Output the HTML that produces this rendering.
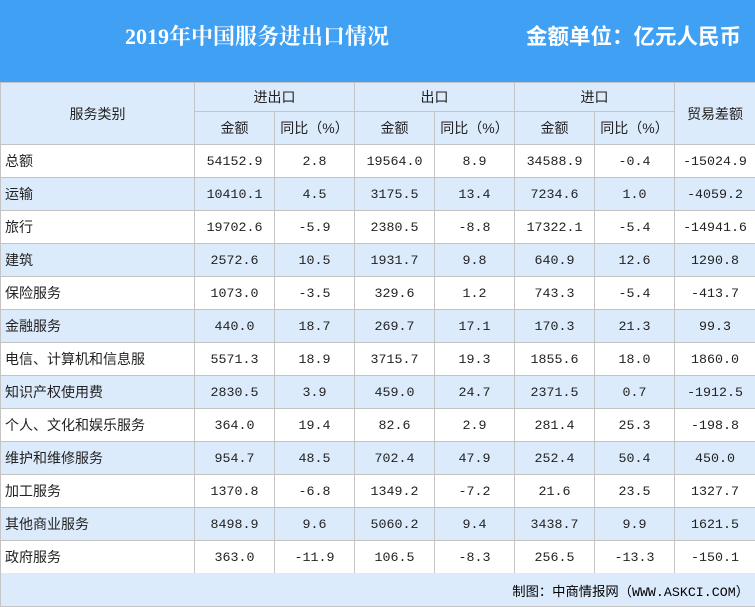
<!DOCTYPE html>
<html><head><meta charset="utf-8"><style>
body{margin:0;width:755px;height:607px;overflow:hidden;background:#fff;font-family:"Liberation Mono","Noto Sans CJK SC",monospace;}
#title{position:absolute;left:0;top:0;width:755px;height:82px;background:#40a0f4;color:#fff;}
#t1{position:absolute;left:125px;top:20px;font:bold 22px "Liberation Serif","Noto Serif CJK SC",serif;}
#t2{position:absolute;left:526px;top:20px;font:bold 21.5px "Liberation Sans","Noto Sans CJK SC",sans-serif;}
table{position:absolute;left:0;top:82px;border-collapse:collapse;table-layout:fixed;width:756px;font-size:13.3px;color:#222;}
td{border:1px solid #c4c4c4;height:32px;padding:0;text-align:center;white-space:nowrap;overflow:hidden;}
tr.h td{background:#dcebfb;height:28px;font-family:"Liberation Sans","Noto Sans CJK SC",sans-serif;font-size:14px;}
tr.h2 td{height:32px;}
td.n{text-align:left;padding-left:4px;font-family:"Liberation Sans","Noto Sans CJK SC",sans-serif;font-size:14px;}
tr.b td{background:#dcebfb;}
#foot{position:absolute;left:0;top:573px;width:754px;height:33px;background:#dcebfb;border:1px solid #c4c4c4;border-top:none;}
#foot span{position:absolute;right:6px;top:8px;font-size:13.3px;}
</style></head><body>
<div id="title">
<div id="t1">2019年中国服务进出口情况</div>
<div id="t2">金额单位：亿元人民币</div>
</div>
<table>
<colgroup><col style="width:194px"><col style="width:80px"><col style="width:80px"><col style="width:80px"><col style="width:80px"><col style="width:80px"><col style="width:80px"><col style="width:81px"></colgroup>
<tr class="h"><td rowspan="2">服务类别</td><td colspan="2">进出口</td><td colspan="2">出口</td><td colspan="2">进口</td><td rowspan="2">贸易差额</td></tr>
<tr class="h h2"><td>金额</td><td>同比（%）</td><td>金额</td><td>同比（%）</td><td>金额</td><td>同比（%）</td></tr>
<tbody id="tb"></tbody>
</table>
<div id="foot"><span>制图：中商情报网（WWW.ASKCI.COM）</span></div>
<script>
const categories=["总额","运输","旅行","建筑","保险服务","金融服务","电信、计算机和信息服","知识产权使用费","个人、文化和娱乐服务","维护和维修服务","加工服务","其他商业服务","政府服务"];
const totalAmt=["54152.9","10410.1","19702.6","2572.6","1073.0","440.0","5571.3","2830.5","364.0","954.7","1370.8","8498.9","363.0"];
const totalYoy=["2.8","4.5","-5.9","10.5","-3.5","18.7","18.9","3.9","19.4","48.5","-6.8","9.6","-11.9"];
const expAmt=["19564.0","3175.5","2380.5","1931.7","329.6","269.7","3715.7","459.0","82.6","702.4","1349.2","5060.2","106.5"];
const expYoy=["8.9","13.4","-8.8","9.8","1.2","17.1","19.3","24.7","2.9","47.9","-7.2","9.4","-8.3"];
const impAmt=["34588.9","7234.6","17322.1","640.9","743.3","170.3","1855.6","2371.5","281.4","252.4","21.6","3438.7","256.5"];
const impYoy=["-0.4","1.0","-5.4","12.6","-5.4","21.3","18.0","0.7","25.3","50.4","23.5","9.9","-13.3"];
const balance=["-15024.9","-4059.2","-14941.6","1290.8","-413.7","99.3","1860.0","-1912.5","-198.8","450.0","1327.7","1621.5","-150.1"];
const tb=document.getElementById('tb');
categories.forEach((c,i)=>{
  const tr=document.createElement('tr');
  
  
  if(i%2==1)tr.className='b';
  const vals=[c,totalAmt[i],totalYoy[i],expAmt[i],expYoy[i],impAmt[i],impYoy[i],balance[i]];
  vals.forEach((v,j)=>{
    const td=document.createElement('td');
    
    
    if(j==0)td.className='n';
    td.textContent=v;
    tr.appendChild(td);
  });
  tb.appendChild(tr);
});
</script>
</body></html>
